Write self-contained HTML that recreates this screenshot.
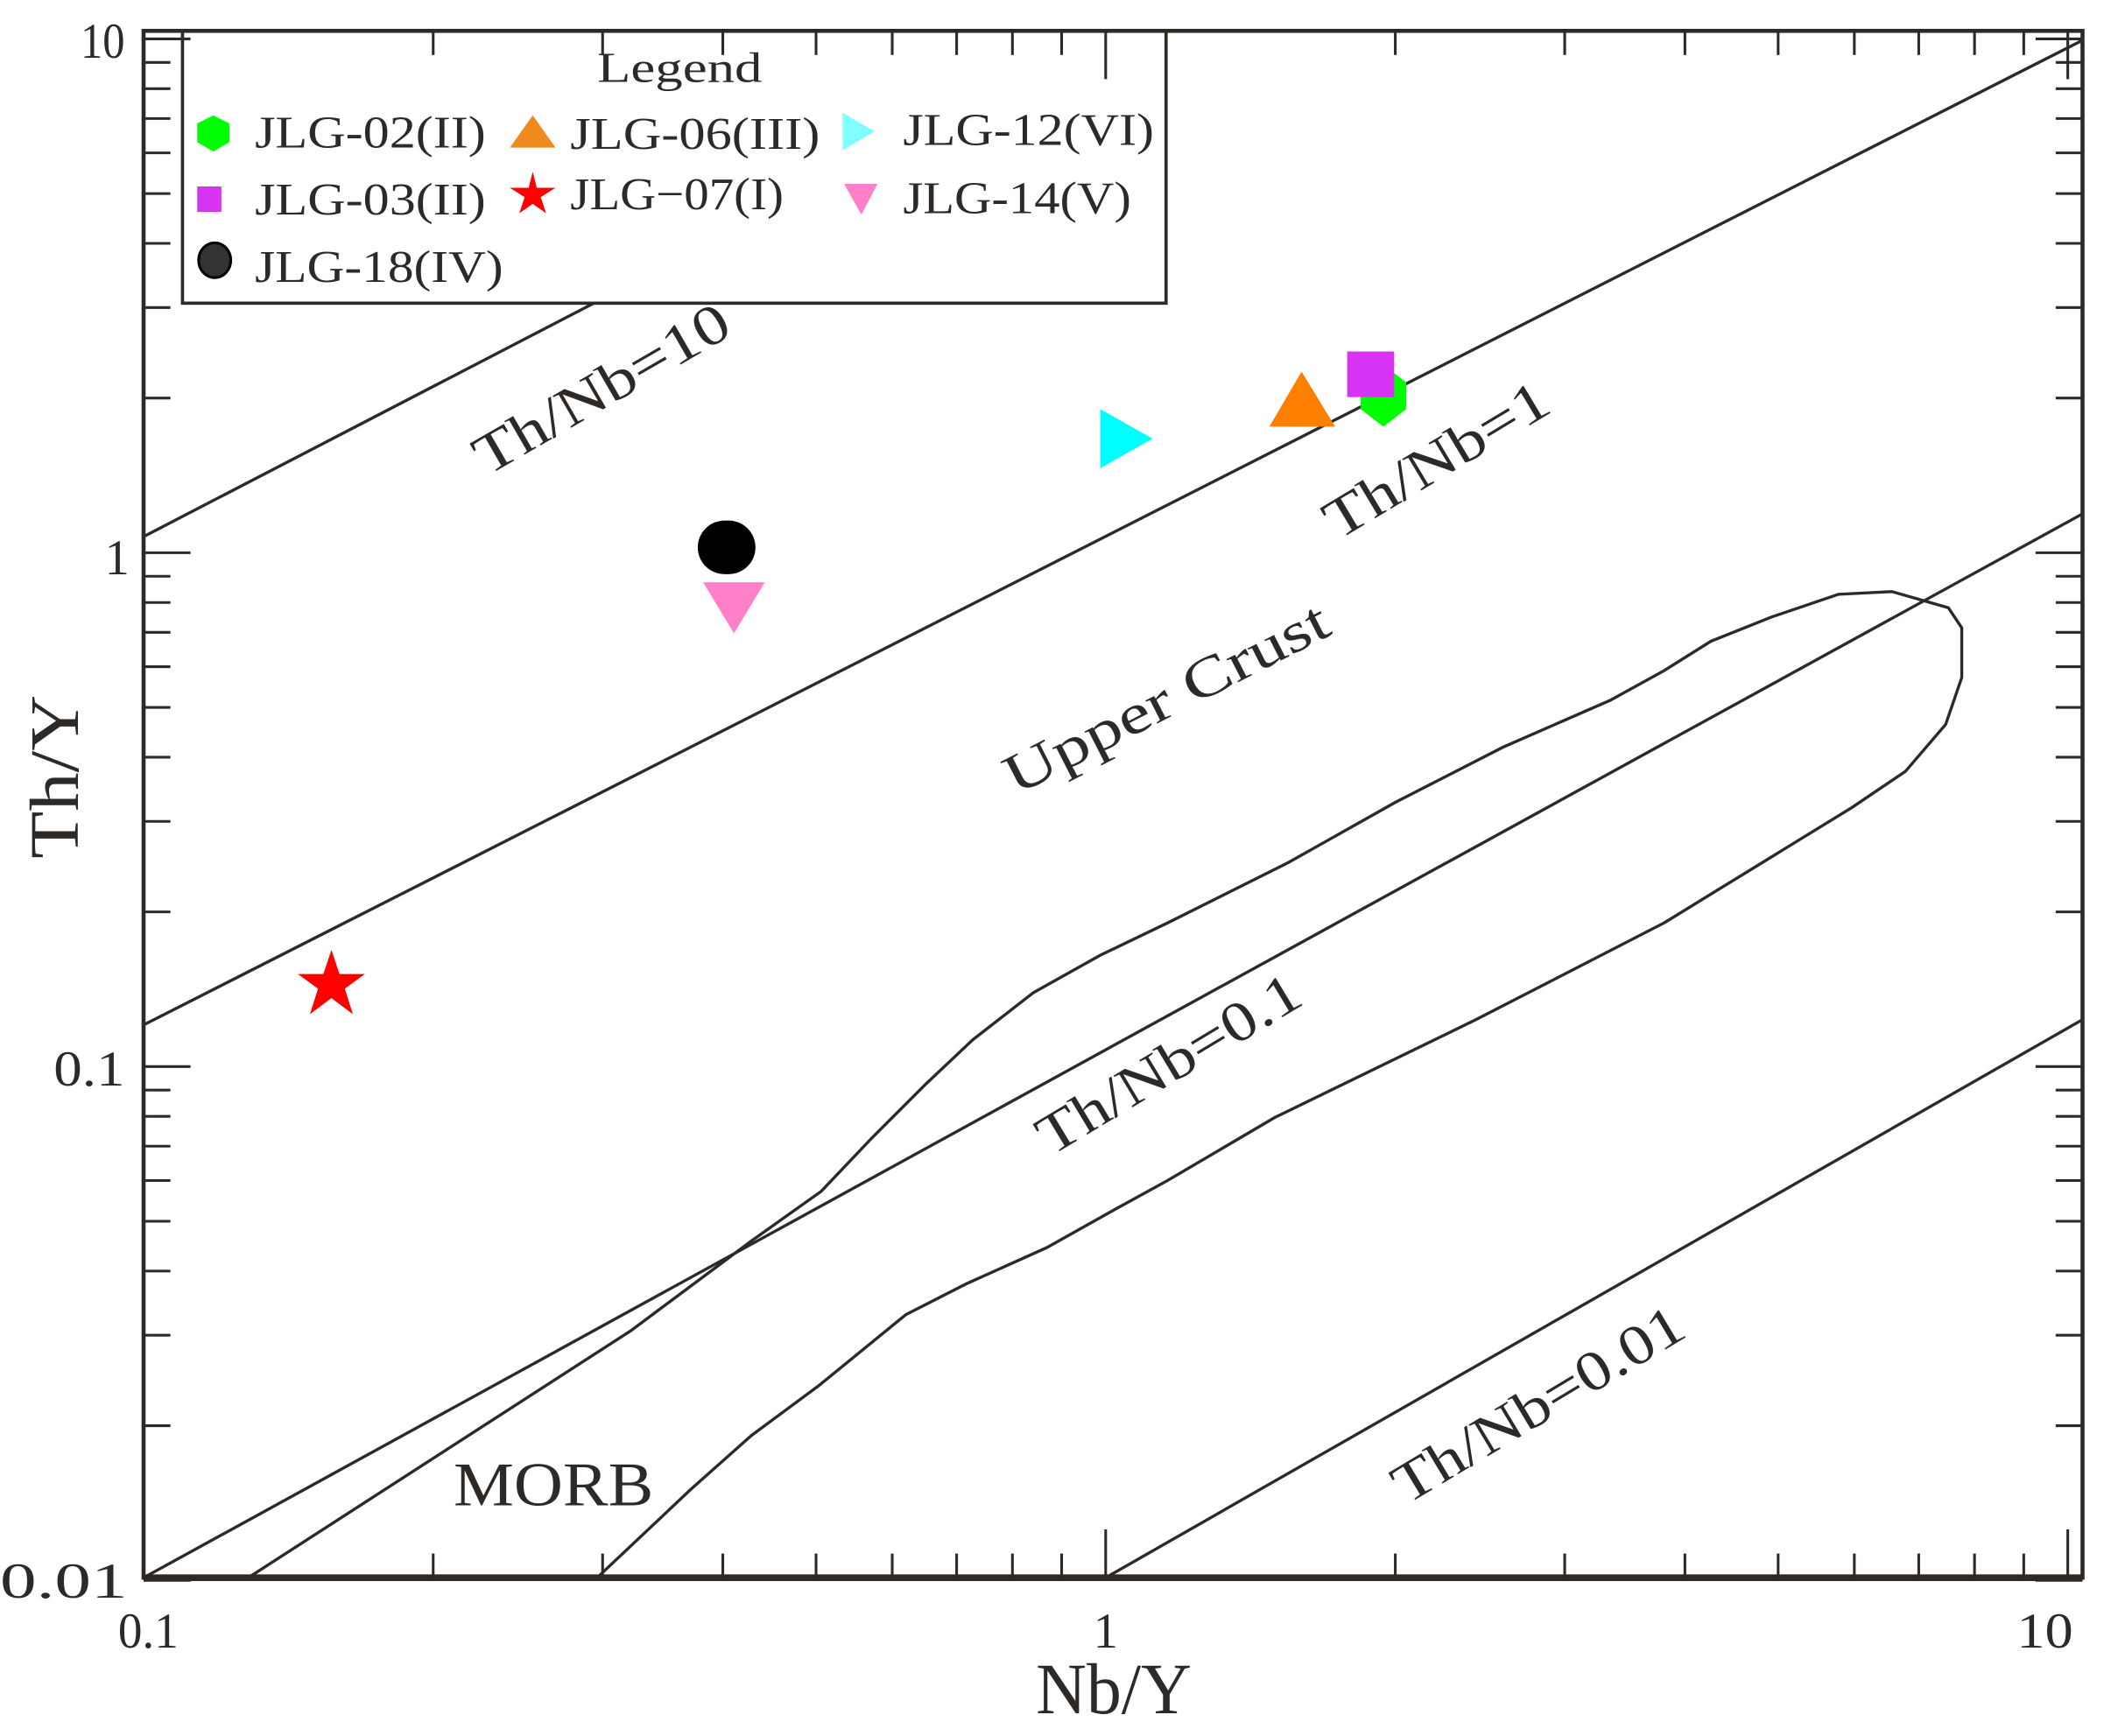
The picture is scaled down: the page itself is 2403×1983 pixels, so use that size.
<!DOCTYPE html>
<html><head><meta charset="utf-8"><style>html,body{margin:0;padding:0;background:#fff}svg{display:block}</style></head>
<body>
<svg width="2403" height="1983" viewBox="0 0 1568 1294" preserveAspectRatio="none" xmlns="http://www.w3.org/2000/svg" font-family="Liberation Serif, serif" fill="#2d2926">
<rect width="1568" height="1294" fill="#fff"/>
<g stroke="#2d2926" stroke-width="2.2" fill="none">
<line x1="107" y1="400" x2="834" y2="23"/>
<line x1="107" y1="764" x2="1552" y2="30"/>
<line x1="107" y1="1176" x2="1552" y2="383"/>
<line x1="824" y1="1176" x2="1552" y2="760"/>
<path d="M185,1176 L470,992 L560,925 L612,888 L650,848 L690,808 L725,775 L770,740 L820,712 L870,688 L960,643 L1040,598 L1120,557 L1200,522 L1240,500 L1275,478 L1320,460 L1370,443 L1410,441 L1452,453 L1462,468 L1462,505 L1450,540 L1420,575 L1380,602 L1240,688 L1100,760 L950,833 L870,880 L830,902 L780,930 L720,957 L675,980 L610,1033 L560,1070 L515,1110 L445,1176"/>
</g>
<rect x="136" y="23" width="733" height="203" fill="#fff" stroke="#2d2926" stroke-width="2.4"/>
<rect x="107" y="23" width="1445" height="1153" fill="none" stroke="#2d2926" stroke-width="3"/>
<line x1="107" y1="1176" x2="1552" y2="1176" stroke="#2d2926" stroke-width="5"/>
<g lengthAdjust="spacingAndGlyphs">
<text x="445" y="61" font-size="32" textLength="123" lengthAdjust="spacingAndGlyphs">Legend</text>
<text x="190" y="110" font-size="34" textLength="172" lengthAdjust="spacingAndGlyphs">JLG-02(II)</text>
<text x="425" y="111" font-size="34" textLength="186" lengthAdjust="spacingAndGlyphs">JLG-06(III)</text>
<text x="673" y="108" font-size="34" textLength="187" lengthAdjust="spacingAndGlyphs">JLG-12(VI)</text>
<text x="190" y="160" font-size="34" textLength="172" lengthAdjust="spacingAndGlyphs">JLG-03(II)</text>
<text x="425" y="156" font-size="34" textLength="159" lengthAdjust="spacingAndGlyphs">JLG−07(I)</text>
<text x="673" y="159" font-size="34" textLength="170" lengthAdjust="spacingAndGlyphs">JLG-14(V)</text>
<text x="190" y="210" font-size="34" textLength="185" lengthAdjust="spacingAndGlyphs">JLG-18(IV)</text>
</g>
<polygon points="159,86 171,92 171,106 159,113 147,106 147,92" fill="#00ff00"/>
<polygon points="397,86 414,110 380,110" fill="#f08a1c"/>
<polygon points="628,84 652,98 628,112" fill="#7fffff"/>
<rect x="147" y="139" width="18" height="19" fill="#d633f5"/>
<polygon points="397,128 400,140 414,140 403,147 407,159 397,152 387,159 391,147 380,140 394,140" fill="#ff0000"/>
<polygon points="629,137 654,137 642,160" fill="#ff80c8"/>
<ellipse cx="160" cy="194" rx="12" ry="13" fill="#333" stroke="#000" stroke-width="2"/>
<polygon points="1031,272 1048,285 1048,305 1031,318 1014,305 1014,285" fill="#00ff00"/>
<rect x="1004" y="262" width="35" height="34" fill="#d633f5"/>
<polygon points="970,277 995,318 946,318" fill="#ff8000"/>
<polygon points="820,305 859,327 820,349" fill="#00ffff"/>
<rect x="520" y="388" width="43" height="40" rx="20" fill="#000"/>
<polygon points="524,434 570,434 547,472" fill="#ff80c8"/>
<polygon points="247,708 253,726 272,726 257,737 263,756 247,744 231,756 237,737 222,726 241,726" fill="#ff0000"/>
<g font-size="42">
<text transform="translate(363,355) rotate(-30)" textLength="213" lengthAdjust="spacingAndGlyphs">Th/Nb=10</text>
<text transform="translate(997,403) rotate(-31)" textLength="188" lengthAdjust="spacingAndGlyphs">Th/Nb=1</text>
<text transform="translate(757,593) rotate(-27)" textLength="266" lengthAdjust="spacingAndGlyphs">Upper Crust</text>
<text transform="translate(783,862) rotate(-31)" textLength="222" lengthAdjust="spacingAndGlyphs">Th/Nb=0.1</text>
<text transform="translate(1048,1122) rotate(-31)" textLength="246" lengthAdjust="spacingAndGlyphs">Th/Nb=0.01</text>
<text x="338" y="1122" font-size="46" textLength="149" lengthAdjust="spacingAndGlyphs">MORB</text>
</g>
<g font-size="37">
<text x="60" y="43" textLength="33" lengthAdjust="spacingAndGlyphs">10</text>
<text x="78" y="428">1</text>
<text x="40" y="809" textLength="53" lengthAdjust="spacingAndGlyphs">0.1</text>
<text x="0" y="1191" textLength="95" lengthAdjust="spacingAndGlyphs">0.01</text>
<text x="88" y="1228" textLength="45" lengthAdjust="spacingAndGlyphs">0.1</text>
<text x="824" y="1228" text-anchor="middle">1</text>
<text x="1503" y="1228" textLength="42" lengthAdjust="spacingAndGlyphs">10</text>
</g>
<text x="772" y="1277" font-size="54" textLength="116" lengthAdjust="spacingAndGlyphs">Nb/Y</text>
<text transform="translate(58,640) rotate(-90)" font-size="52" textLength="122" lengthAdjust="spacingAndGlyphs">Th/Y</text>
<g stroke="#2d2926" stroke-width="2" id="tk"></g>
</svg>
<script>
(function(){
var ns="http://www.w3.org/2000/svg",g=document.getElementById("tk");
function L(a,b,c,d){var l=document.createElementNS(ns,"line");l.setAttribute("x1",a);l.setAttribute("y1",b);l.setAttribute("x2",c);l.setAttribute("y2",d);g.appendChild(l);}
function Y(v){return 412-383*Math.log10(v);}
function X(v){return 824+717*Math.log10(v);}
[0.01,0.1,1].forEach(function(b){for(var m=1;m<10;m++){var y=Y(b*m);if(y<24)continue;var len=m==1?35:20;L(107,y,107+len,y);L(1552,y,1552-len,y);}});
var yt=Y(10);if(yt>=23){L(107,yt,142,yt);L(1552,yt,1517,yt);}
[0.1,1].forEach(function(b){for(var m=1;m<10;m++){var x=X(b*m);var len=m==1?36:18;L(x,1176,x,1176-len);L(x,23,x,23+len);}});
var x10=X(10);if(x10<1552){L(x10,1176,x10,1140);L(x10,23,x10,59);}
})();
</script>
</body></html>
